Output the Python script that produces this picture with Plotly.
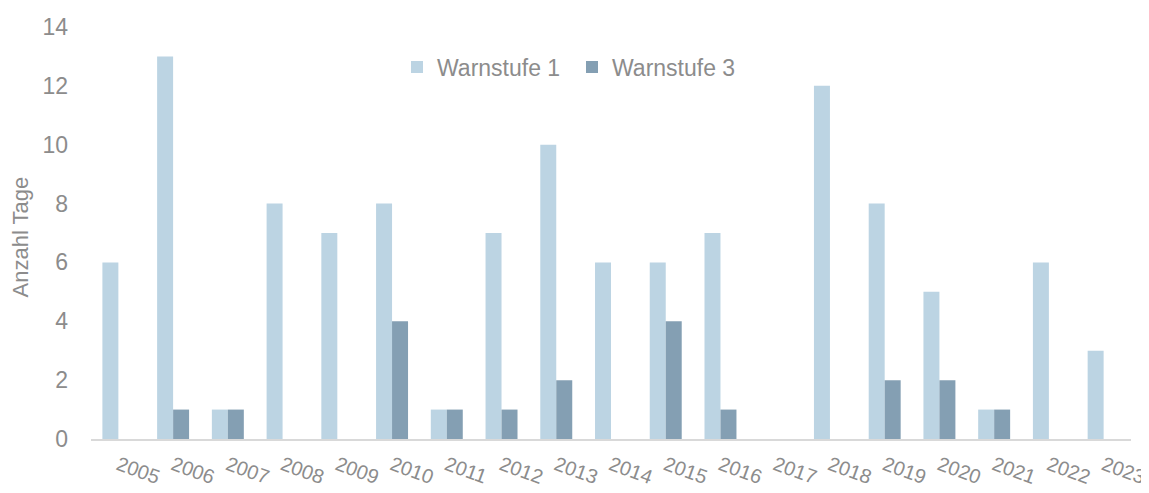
import plotly.graph_objects as go

years = ["2005", "2006", "2007", "2008", "2009", "2010", "2011", "2012", "2013", "2014",
         "2015", "2016", "2017", "2018", "2019", "2020", "2021", "2022", "2023"]
warnstufe1 = [6, 13, 1, 8, 7, 8, 1, 7, 10, 6, 6, 7, 0, 12, 8, 5, 1, 6, 3]
warnstufe3 = [0, 1, 1, 0, 0, 4, 1, 1, 2, 0, 4, 1, 0, 0, 2, 2, 1, 0, 0]
y_ticks = [0, 2, 4, 6, 8, 10, 12, 14]
y_title = "Anzahl Tage"

grey = "#8c8c8c"
W, H = 1141, 485          # page body has 8px margin
top, bottom, left = 19, 54, 83
plot_h = H - top - bottom

fig = go.Figure()
fig.add_trace(go.Bar(x=years, y=warnstufe1, name="Warnstufe 1",
                     marker=dict(color="#bcd4e3", line=dict(width=0))))
fig.add_trace(go.Bar(x=years, y=warnstufe3, name="Warnstufe 3",
                     marker=dict(color="#849fb3", line=dict(width=0))))

fig.update_layout(
    width=W, height=H,
    margin=dict(l=left, r=18, t=top, b=bottom, autoexpand=False),
    paper_bgcolor="white", plot_bgcolor="white",
    barmode="group", bargap=0.416, bargroupgap=0,
    font=dict(family="Liberation Sans, Arial, sans-serif", color=grey, size=20),
    legend=dict(orientation="h", x=389 / W, xanchor="left", xref="container",
                y=(H - bottom - 59) / plot_h, yanchor="middle", yref="paper",
                font=dict(size=23, color=grey), traceorder="normal",
                entrywidth=130, bgcolor="rgba(0,0,0,0)"),
    showlegend=True,
    annotations=[dict(text=y_title, textangle=-90, xref="paper", yref="paper",
                      x=0, y=(H - bottom - 229) / plot_h, xanchor="left", yanchor="middle",
                      xshift=-3 - left, showarrow=False,
                      font=dict(size=22, color=grey))],
)
fig.update_xaxes(type="category", showgrid=False, showline=True, linecolor="#d9d9d9",
                 linewidth=1.5, ticks="", tickangle=20, automargin=False,
                 ticklabelstandoff=5, tickfont=dict(size=20, color=grey))
fig.update_yaxes(range=[0, 14], tickvals=y_ticks, showgrid=False, zeroline=False,
                 showline=False, ticks="", ticklabelstandoff=22, automargin=False,
                 tickfont=dict(size=23, color=grey))

fig.write_html("out.html")
